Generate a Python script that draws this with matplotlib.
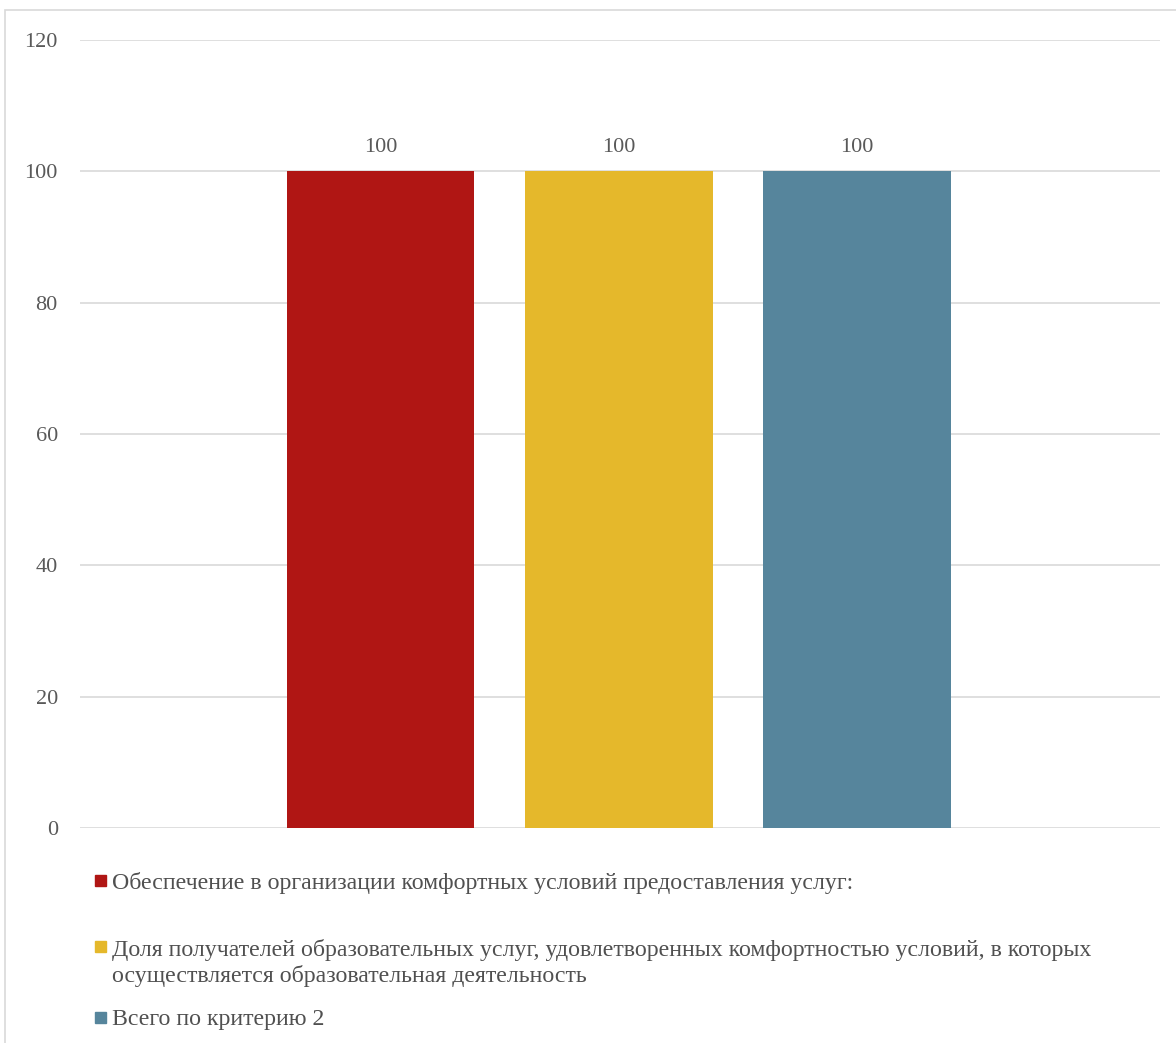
import matplotlib
matplotlib.use("Agg")
import matplotlib.pyplot as plt
from matplotlib.patches import Rectangle

# data
series = [
    "Обеспечение в организации комфортных условий предоставления услуг:",
    "Доля получателей образовательных услуг, удовлетворенных комфортностью условий, в которых\n"
    "осуществляется образовательная деятельность",
    "Всего по критерию 2",
]
values = [100, 100, 100]
colors = ["#B01614", "#E5B82B", "#56859C"]
yticks = [0, 20, 40, 60, 80, 100, 120]

plt.rcParams["font.family"] = ["Liberation Serif", "DejaVu Serif"]
TXT = "#595959"

fig = plt.figure(figsize=(11.76, 10.43), dpi=100)
fig.patch.set_facecolor("white")

# outer chart frame (Excel-style)
fig.add_artist(Rectangle((5 / 1176, -0.05), 1.2, 1.05 - 10 / 1043,
                         transform=fig.transFigure, fill=False,
                         edgecolor="#d9d9d9", lw=1.2))

ax = fig.add_axes([80 / 1176, 1 - 828 / 1043, (1160 - 80) / 1176, (828 - 40) / 1043])
xpos = range(len(values))
bars = ax.bar(xpos, values, width=0.787, color=colors, zorder=3)
for b, v in zip(bars, values):
    ax.annotate(f"{v}", (b.get_x() + b.get_width() / 2, v), xytext=(0, 10),
                textcoords="offset points", ha="center", va="bottom",
                fontsize=16, color=TXT)

ax.set_xlim(-1.26, 3.27)
ax.set_ylim(0, 120)
ax.set_yticks(yticks)
ax.set_xticks([])
ax.grid(axis="y", color="#d9d9d9", lw=1.2, zorder=0)
for s in ax.spines.values():
    s.set_visible(False)
ax.tick_params(axis="y", length=0, pad=16, labelsize=16, labelcolor=TXT)

# legend below the plot (square y, text y)
leg_sq = [880, 946, 1017]
leg_txt = [883, 963, 1020]
for lbl, col, sy, ty in zip(series, colors, leg_sq, leg_txt):
    fig.add_artist(Rectangle((95 / 1176, 1 - (sy + 6) / 1043), 11 / 1176, 11 / 1043,
                             transform=fig.transFigure, color=col))
    fig.text(112 / 1176, 1 - ty / 1043, lbl, ha="left", va="center",
             fontsize=17.2, color="#505050", linespacing=1.2)

fig.savefig("out.png", dpi=100, facecolor="white")
